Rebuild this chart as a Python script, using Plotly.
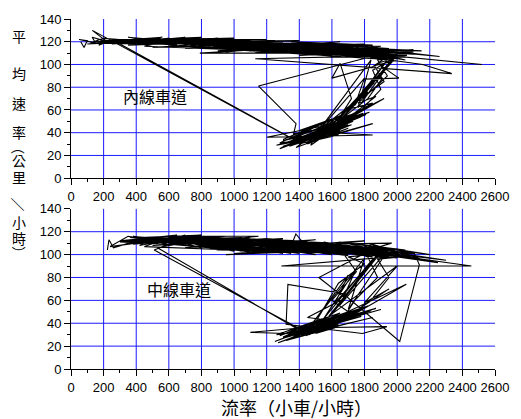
import plotly.graph_objects as go

# ---------------- data ----------------
# inner lane: flow (pcu/h) and mean speed (km/h), in time order, several segments
inner_flow_a = [
    60, 80, 100, 50, 150, 130, 200, 170, 260, 230,
    131, 1325, 1420, 1290, 1500, 1370, 1560, 1260, 1480, 1620,
    1400, 1700, 1340, 1590, 1460, 1760, 1520, 1650, 1430, 1810,
    1550, 1690, 1200, 1850, 1600, 1720, 1390, 1660, 1780, 1900,
    1850, 1960, 1700, 2100, 1800, 2260, 1900, 2030, 1750, 1950,
    1850, 1600, 1650, 1720, 1640, 1550, 1700, 1480, 1760, 1600,
    1300, 1520, 1700, 1450, 1790, 1620, 1820, 1910, 1790, 2010,
    1880, 1990, 1800, 2060, 1130, 2335, 2156, 1700, 2000, 1600,
    2520, 1500, 1950, 1150, 1380, 1365, 1560, 1420, 1640, 1300,
    1580, 1750, 1500, 1850, 1680, 1920, 1860, 1980, 1750, 2100,
    1650, 1950, 1550, 1900, 1450, 1850, 1400, 1800, 1300, 1750,
    1250, 1700, 1200, 1650, 1100, 1600, 1150, 1550, 1050, 1500,
    1000, 1450, 950, 1400, 900, 1350, 850, 1300, 800, 1250,
    790, 1900, 1350, 1800, 1200, 1700, 1100, 1600, 1000, 1550,
    950, 1400, 900, 1300, 850, 1200, 780, 1100, 750, 1000,
    700, 950, 650, 900, 600, 850, 550, 800, 500, 750,
    450, 700, 400, 650, 350, 600, 300, 550, 250, 1380,
    1470, 1330, 1540, 1280, 1610, 1440, 1680, 1360, 1580, 1730,
    1500, 1640, 1420, 1780, 1530, 1830, 1690, 1870, 1760, 1940,
    1880, 2050, 1600, 1990, 1500, 1900, 1400, 1850, 1300, 1750,
    1200, 1650, 1100, 1550, 1000, 1450, 900, 1350, 800, 1250,
    700, 1150, 600, 1050, 500, 950, 400, 850, 330, 700,
    280, 560, 230, 480, 180, 400, 120,
]
inner_speed_a = [
    120, 115, 121, 122, 119, 124, 121, 117, 122, 119,
    130, 37, 33, 27, 38, 30, 42, 29, 35, 45,
    31, 49, 28, 40, 37, 53, 41, 45, 34, 56,
    43, 50, 36, 38, 40, 47, 33, 46, 60, 78,
    95, 104, 112, 109, 115, 107, 112, 110, 114, 108,
    98, 88, 101, 70, 52, 44, 53, 38, 55, 47,
    33, 40, 51, 36, 57, 48, 70, 88, 87, 88,
    101, 106, 110, 108, 105, 92, 100, 109, 112, 113,
    100, 114, 111, 81, 48, 39, 44, 35, 49, 30,
    42, 54, 39, 66, 60, 85, 99, 103, 111, 111,
    113, 112, 115, 113, 116, 114, 117, 112, 115, 116,
    118, 113, 116, 117, 118, 114, 115, 118, 117, 112,
    119, 115, 118, 113, 120, 116, 118, 117, 121, 114,
    110, 110, 112, 108, 113, 110, 114, 111, 115, 113,
    117, 114, 116, 119, 119, 120, 117, 121, 120, 121,
    119, 122, 121, 118, 120, 122, 118, 119, 121, 122,
    119, 123, 121, 117, 120, 123, 118, 121, 122, 33,
    36, 29, 40, 26, 44, 35, 48, 31, 41, 50,
    37, 47, 33, 54, 42, 58, 52, 72, 66, 90,
    104, 107, 112, 110, 115, 114, 116, 111, 117, 113,
    118, 115, 119, 116, 120, 117, 121, 118, 120, 119,
    121, 117, 122, 118, 120, 119, 122, 120, 119, 118,
    121, 124, 120, 122, 121, 118, 119,
]
inner_flow_b = [
    200, 650, 350, 900, 500, 1150, 750, 1350, 950, 1600,
    1250, 1850, 1550, 2050, 1750, 2150, 1450, 1950, 1200, 1800,
    1000, 1600, 800, 1400, 600, 1200, 450, 1000, 300, 850,
    150, 550, 100, 400,
    400, 900, 600, 1200, 800, 1500, 1000, 1800, 1300, 2000,
    1600, 1900, 1400, 2100, 1100, 1700, 900, 1500, 700, 1300,
    500, 1100, 350, 900, 250, 700, 450, 1000, 600, 1400,
    850, 1700, 1200, 2000, 1500, 1950, 1350, 1850, 1150, 1750,
    1050, 1650, 950, 1450, 750, 1250, 550, 1050, 300, 800,
]
inner_speed_b = [
    123, 118, 124, 117, 121, 113, 123, 111, 121, 108,
    119, 106, 116, 104, 115, 112, 114, 110, 116, 118,
    115, 119, 118, 121, 120, 122, 122, 123, 122, 121,
    120, 123, 118, 120,
    123, 114, 122, 111, 121, 109, 120, 107, 118, 106,
    117, 116, 108, 113, 110, 116, 112, 118, 114, 119,
    115, 121, 117, 123, 118, 124, 116, 113, 117, 110,
    115, 108, 112, 105, 111, 114, 120, 117, 119, 109,
    114, 120, 111, 119, 116, 121, 119, 122, 121, 124,
]
inner_flow_d = [
    700, 1300, 850, 1500, 1000, 1700, 1150, 1900, 1300, 2000,
    1450, 1800, 1250, 1650, 1050, 1450, 900, 1250, 750, 1100,
    650, 1200, 800, 1400, 950, 1600, 1100, 1800, 1250, 1950,
    1400, 1700, 1200, 1550, 1000, 1350, 850, 1150, 700, 1000,
]
inner_speed_d = [
    121, 110, 120, 109, 119, 108, 118, 107, 118, 106,
    117, 108, 118, 109, 119, 110, 120, 111, 121, 112,
    121, 111, 120, 110, 119, 109, 119, 107, 118, 106,
    117, 109, 118, 110, 120, 111, 121, 112, 122, 113,
]
inner_flow_c = [
    1980, 1620, 1940, 1560, 1860, 1700, 1900, 1650, 2000, 1760,
    1840, 1520, 1800, 1740, 1960, 1680, 1880, 1600, 1920, 1480,
    1820, 1580,
    1350, 1500, 1300, 1560, 1420, 1650, 1380, 1700, 1450, 1760,
    1520, 1640, 1280, 1600, 1400, 1720, 1360, 1540, 1470, 1800,
    1590, 1850,
    1400, 1600, 1350, 1650, 1450, 1550, 1300, 1700, 1500, 1620,
    1380, 1580, 1440, 1680, 1330, 1520, 1480, 1640, 1420, 1560,
]
inner_speed_c = [
    104, 46, 99, 41, 84, 58, 96, 50, 110, 62,
    104, 42, 88, 64, 108, 55, 92, 44, 70, 38,
    76, 45,
    32, 46, 34, 50, 40, 55, 27, 44, 30, 58,
    34, 38, 31, 52, 42, 56, 35, 48, 29, 62,
    37, 48,
    30, 44, 33, 42, 36, 40, 28, 47, 34, 38,
    35, 43, 31, 45, 29, 37, 38, 41, 32, 39,
]

# middle lane
middle_flow_a = [
    223, 233, 260, 400, 330, 500, 420, 600, 520, 700,
    650, 800, 530, 1400, 1300, 1480, 1250, 1550, 1350, 1620,
    1420, 1700, 1270, 1580, 1100, 1320, 1650, 1460, 1760, 1520,
    1900, 1600, 1800, 1380, 1680, 1500, 1937, 1787, 1319, 1330,
    1668, 2016, 2136, 2106, 1850, 2200, 1700, 2050, 1600, 2455,
    1290, 1950, 1500, 1966, 1800, 2250, 1650, 1750, 1600, 1700,
    1560, 1820, 1450, 1650, 1360, 1580, 1720, 1400, 1870, 1530,
    2056, 1750, 1480, 1640, 1800, 1700, 1900, 1550, 2000, 1450,
    1379, 1350, 1900, 1250, 1800, 1520, 1680, 1450, 1620, 1330,
    1560, 1780, 1430, 1690, 1850, 1950, 1880, 2100, 1700, 2000,
    1600, 1950, 1500, 1900, 1400, 1850, 1300, 1800, 1200, 1750,
    1100, 1700, 1000, 1650, 900, 1550, 950, 1500, 1000, 1450,
    850, 1400, 800, 1350, 750, 1300, 700, 1250, 650, 1200,
    600, 1150, 550, 1100, 500, 1050, 450, 1000, 400, 900,
    360, 800, 320, 700, 510, 1390, 1460, 1300, 1540, 1380,
    1620, 1440, 1700, 1510, 1780, 1570, 1840, 1660, 1740, 1880,
    1820, 1650, 2000, 1550, 1900, 1450, 1800, 1350, 1700, 1250,
    1600, 1150, 1500, 1050, 1400, 950, 1300, 850, 1200, 750,
    1100, 650, 1000, 560, 900, 470, 800, 420, 700, 380,
    600, 300, 500, 240,
]
middle_speed_a = [
    104, 113, 106, 112, 109, 114, 108, 113, 110, 117,
    111, 113, 106, 34, 28, 37, 24, 40, 31, 42,
    33, 46, 23, 38, 32, 31, 44, 35, 48, 37,
    52, 40, 50, 30, 45, 36, 37, 31, 39, 74,
    66, 24, 91, 101, 108, 100, 110, 104, 107, 90,
    90, 98, 109, 110, 103, 93, 105, 85, 60, 50,
    43, 55, 37, 46, 30, 41, 47, 33, 53, 39,
    74, 49, 36, 75, 92, 98, 101, 104, 97, 106,
    118, 108, 104, 107, 101, 80, 62, 45, 42, 30,
    38, 46, 32, 44, 62, 80, 96, 99, 104, 102,
    106, 100, 108, 103, 109, 105, 110, 102, 111, 106,
    112, 101, 111, 107, 113, 104, 100, 103, 101, 106,
    112, 104, 114, 107, 113, 103, 112, 108, 114, 110,
    112, 109, 113, 106, 112, 108, 114, 110, 111, 112,
    115, 110, 112, 115, 104, 36, 34, 27, 38, 30,
    41, 33, 45, 36, 48, 39, 51, 42, 60, 80,
    98, 106, 100, 108, 104, 110, 106, 111, 108, 112,
    110, 113, 111, 114, 112, 113, 113, 114, 111, 112,
    114, 115, 112, 114, 115, 111, 116, 113, 111, 116,
    109, 111, 112, 107,
]
middle_flow_b = [
    350, 800, 550, 1100, 750, 1400, 950, 1700, 1250, 1950,
    1550, 2150, 1850, 1650, 1350, 2000, 1150, 1800, 900, 1500,
    700, 1300, 500, 1100, 400, 950, 300, 650, 450, 1000,
    600, 1350, 850, 1600, 1200, 1900, 1450, 2100, 1700, 2300,
    1200, 700, 1050, 500, 900, 380, 750, 1000, 1300, 1550,
    1750, 2050, 1650, 1400, 1850, 1250, 1650, 1000, 1450, 800,
    1150, 600, 1000, 420, 800,
]
middle_speed_b = [
    116, 106, 115, 103, 114, 101, 113, 99, 112, 97,
    111, 96, 109, 100, 110, 105, 102, 112, 104, 113,
    106, 114, 108, 115, 110, 116, 112, 117, 107, 104,
    109, 102, 107, 101, 105, 99, 103, 101, 108, 95,
    114, 109, 115, 113, 116, 109, 115, 107, 109, 102,
    104, 99, 111, 105, 100, 103, 108, 106, 112, 111,
    116, 116, 114, 115, 117,
]
middle_flow_d = [
    600, 1200, 750, 1400, 900, 1600, 1050, 1800, 1200, 1950,
    1350, 1700, 1150, 1550, 950, 1350, 800, 1150, 650, 1000,
    550, 1100, 700, 1300, 850, 1500, 1000, 1700, 1150, 1850,
    1300, 1600, 1100, 1450, 900, 1250, 750, 1050, 600, 900,
]
middle_speed_d = [
    115, 102, 114, 101, 114, 100, 113, 99, 113, 98,
    112, 100, 113, 101, 114, 101, 114, 102, 115, 103,
    115, 102, 115, 101, 114, 100, 113, 99, 113, 98,
    112, 100, 113, 101, 114, 102, 114, 103, 115, 104,
]
middle_flow_c = [
    1900, 1600, 1850, 1550, 1750, 1650, 1950, 1700, 1800, 1480,
    1700, 1620, 1880, 1580, 2000, 1800, 1950, 1740,
    1350, 1500, 1280, 1560, 1420, 1650, 1320, 1700, 1400, 1760,
    1480, 1620, 1260, 1590, 1380, 1720, 1350, 1540, 1460, 1800,
    1560, 1850,
    1400, 1600, 1350, 1650, 1450, 1550, 1300, 1700, 1500, 1620,
    1380, 1580, 1440, 1680, 1330, 1520, 1480, 1640, 1420, 1560,
]
middle_speed_c = [
    102, 48, 96, 44, 88, 56, 105, 52, 97, 40,
    82, 58, 100, 46, 90, 58, 70, 50,
    34, 42, 29, 44, 38, 49, 25, 40, 28, 52,
    31, 36, 30, 46, 36, 50, 27, 44, 30, 54,
    35, 45,
    30, 40, 32, 42, 34, 37, 27, 44, 31, 36,
    33, 41, 29, 43, 26, 35, 36, 39, 30, 37,
]

inner_flow = inner_flow_a + inner_flow_b + inner_flow_d + inner_flow_c
inner_speed = inner_speed_a + inner_speed_b + inner_speed_d + inner_speed_c
middle_flow = middle_flow_a + middle_flow_b + middle_flow_d + middle_flow_c
middle_speed = middle_speed_a + middle_speed_b + middle_speed_d + middle_speed_c

lane_labels = ["內線車道", "中線車道"]
x_title = "流率（小車/小時）"
y_title_chars = ["平", "均", "速", "率", "（", "公", "里", "／", "小", "時", "）"]
grid_x = [200, 400, 600, 800, 1000, 1200, 1400, 1600, 1800, 2000, 2200, 2400]
grid_y = [20, 40, 60, 80, 100, 120]

# ---------------- layout constants ----------------
W, H = 521, 419
ML, MR, MT, MB = 71, 15, 15, 50
PW, PH = W - ML - MR, H - MT - MB
GRID_COLOR = "#1a1aff"
TICK_FONT = dict(family="Liberation Sans, Arial", size=13, color="black")
CJK = "Noto Sans CJK TC"


def py2paper(py):
    return (H - MB - py) / PH


def px2paper(px):
    return (px - ML) / PW


fig = go.Figure()
fig.add_trace(go.Scatter(x=inner_flow, y=inner_speed, mode="lines",
                         line=dict(color="black", width=1.1), xaxis="x", yaxis="y",
                         showlegend=False, hoverinfo="skip"))
fig.add_trace(go.Scatter(x=middle_flow, y=middle_speed, mode="lines",
                         line=dict(color="black", width=1.1), xaxis="x2", yaxis="y2",
                         showlegend=False, hoverinfo="skip"))

top_dom = [py2paper(176), 1.0]
bot_dom = [0.0, py2paper(207)]

xcommon = dict(range=[0, 2600], tick0=0, dtick=200, ticks="outside", ticklen=6,
               tickwidth=1, tickcolor="black", showline=True, linecolor="black",
               linewidth=1, showgrid=False, zeroline=False, tickfont=TICK_FONT,
               minor=dict(dtick=100, ticks="outside", ticklen=3, tickcolor="black",
                          tickwidth=1, showgrid=False))
ycommon = dict(range=[0, 140], tick0=0, dtick=20, ticks="outside", ticklen=6,
               tickwidth=1, tickcolor="black", showline=True, linecolor="black",
               linewidth=1, showgrid=False, zeroline=False, tickfont=TICK_FONT,
               minor=dict(dtick=10, ticks="outside", ticklen=3, tickcolor="black",
                          tickwidth=1, showgrid=False))

shapes = []
for xa, ya in (("x", "y"), ("x2", "y2")):
    for gx in grid_x:
        shapes.append(dict(type="line", xref=xa, yref=ya + " domain", x0=gx, x1=gx,
                           y0=0, y1=1, line=dict(color=GRID_COLOR, width=1), layer="below"))
    for gy in grid_y:
        shapes.append(dict(type="line", xref=xa + " domain", yref=ya, x0=0, x1=1,
                           y0=gy, y1=gy, line=dict(color=GRID_COLOR, width=1), layer="below"))

annotations = [
    dict(text=lane_labels[0], x=514, y=72, xref="x", yref="y", showarrow=False,
         xanchor="center", yanchor="middle",
         font=dict(family=CJK, size=16, color="black")),
    dict(text=lane_labels[1], x=662, y=70, xref="x2", yref="y2", showarrow=False,
         xanchor="center", yanchor="middle",
         font=dict(family=CJK, size=16, color="black")),
    dict(text=x_title, x=px2paper(302), y=py2paper(407), xref="paper", yref="paper",
         showarrow=False, xanchor="center", yanchor="middle",
         font=dict(family=CJK, size=18, color="black")),
]
char_py = [32, 70, 100, 129, 145, 158, 175, 203, 220, 236, 252]
for ch, cy in zip(y_title_chars, char_py):
    rot = 90 if ch in "（）／" else 0
    annotations.append(dict(text=ch, x=px2paper(18), y=py2paper(cy), xref="paper",
                            yref="paper", showarrow=False, textangle=rot,
                            xanchor="center", yanchor="middle",
                            font=dict(family=CJK, size=14, color="black")))

fig.update_layout(
    width=W, height=H, margin=dict(l=ML, r=MR, t=MT, b=MB),
    paper_bgcolor="white", plot_bgcolor="white",
    xaxis=dict(domain=[0, 1], anchor="y", **xcommon),
    yaxis=dict(domain=top_dom, anchor="x", **ycommon),
    xaxis2=dict(domain=[0, 1], anchor="y2", **xcommon),
    yaxis2=dict(domain=bot_dom, anchor="x2", **ycommon),
    shapes=shapes, annotations=annotations,
)

fig.write_html("out.html")
